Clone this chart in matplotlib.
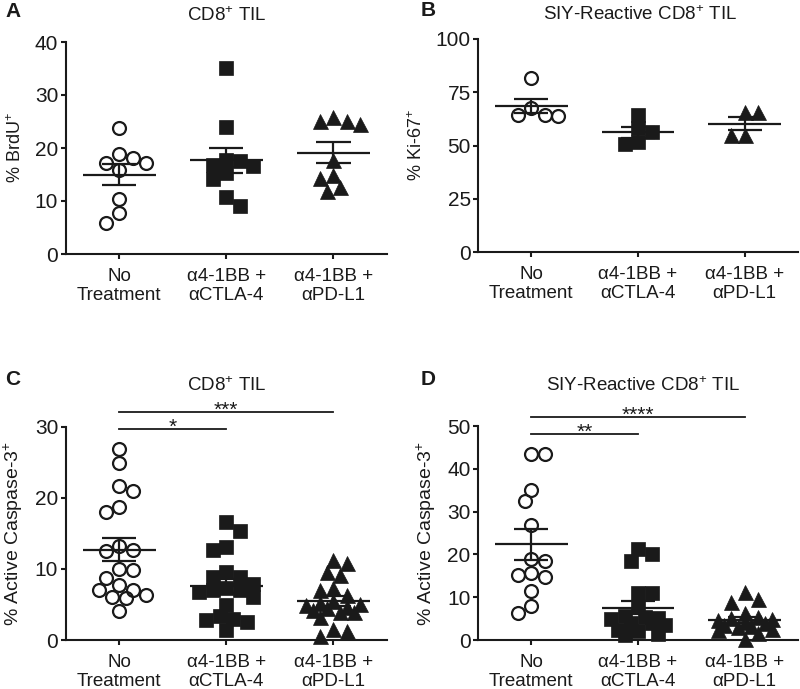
import numpy as np
import matplotlib
matplotlib.use("Agg")
import matplotlib.pyplot as plt

plt.rcParams['font.family'] = ['Liberation Sans', 'DejaVu Sans']
plt.rcParams['mathtext.fontset'] = 'custom'
plt.rcParams['mathtext.rm'] = 'Liberation Sans'
plt.rcParams['mathtext.it'] = 'Liberation Sans:italic'
plt.rcParams['mathtext.bf'] = 'Liberation Sans:bold'

# ---------------- data ----------------
categories = ['No\nTreatment', 'α4-1BB +\nαCTLA-4', 'α4-1BB +\nαPD-L1']

a_none = [18.8, 17.1, 23.8, 15.8, 17.1, 18.2, 10.3, 7.7, 5.9]
a_ctla = [35.0, 24.0, 17.6, 16.8, 17.8, 16.6, 15.2, 14.1, 10.8, 9.0]
a_pdl1 = [25.1, 24.5, 25.1, 25.9, 17.7, 14.3, 14.9, 11.9, 12.6]

b_none = [81.5, 64.5, 64.0, 64.5, 67.7]
b_ctla = [64.3, 56.4, 58.0, 50.6, 51.7]
b_pdl1 = [65.5, 65.5, 54.9, 54.9]

c_none = [26.8, 24.85, 21.6, 20.9, 18.75, 17.96, 13.2, 12.5, 12.66, 9.85, 9.94,
          8.7, 7.03, 7.74, 7.03, 6.33, 6.0, 5.86, 4.12]
c_ctla = [16.6, 15.4, 13.1, 12.6, 9.6, 8.9, 8.9, 7.9, 7.3, 7.0, 7.0, 6.8, 6.1,
          4.9, 3.4, 3.0, 2.8, 2.6, 1.4]
c_pdl1 = [11.3, 10.8, 9.6, 9.2, 7.3, 7.0, 6.3, 5.5, 5.2, 5.0, 4.9, 4.7, 4.5,
          4.2, 4.0, 4.0, 3.3, 1.6, 1.2, 0.5]

d_none = [43.4, 43.4, 35.0, 32.5, 26.9, 18.5, 18.9, 15.7, 14.8, 15.3, 11.4, 7.9, 6.4]
d_ctla = [21.2, 20.0, 18.5, 11.0, 10.9, 7.8, 5.6, 5.3, 5.1, 4.9, 4.0, 3.9, 3.5,
          2.4, 2.2, 1.5, 1.2]
d_pdl1 = [11.3, 9.5, 8.95, 6.2, 5.3, 5.1, 4.8, 4.7, 4.2, 3.9, 3.5, 3.2, 3.0,
          2.5, 2.3, 1.6, 0.3]

c_sig_labels = ['*', '***']
c_sig_pairs = [(0, 1), (0, 2)]
c_sig_y = [29.7, 32.1]
d_sig_labels = ['**', '****']
d_sig_pairs = [(0, 1), (0, 2)]
d_sig_y = [48.1, 52.2]

# ---------------- style ----------------
W, H = 800, 689
INK = '#1a1a1a'
fig = plt.figure(figsize=(W / 100, H / 100), dpi=100)


def rect(l, r, t, b):
    return [l / W, 1 - b / H, (r - l) / W, (b - t) / H]


def swarm_offsets(vals, px_per_x, px_per_y, diam_px, max_px=28.0):
    """Simple bounded beeswarm layout (pixel space), returns x offsets in data units."""
    vals = np.asarray(vals, float)
    order = np.argsort(-vals, kind='stable')
    placed = []
    offs = np.zeros(len(vals))
    step = diam_px * 0.5
    n_steps = int(max_px // step)
    side = 1.0
    thresh = diam_px * 0.92
    for i in order:
        y = vals[i] * px_per_y
        cands = [0.0]
        for k in range(1, n_steps + 1):
            cands += [side * k * step, -side * k * step]
        best, best_d = None, -1
        chosen = None
        for c in cands:
            dmin = min([np.hypot(c - px, y - py) for px, py in placed] or [1e9])
            if dmin >= thresh:
                chosen = c
                break
            if dmin > best_d:
                best, best_d = c, dmin
        if chosen is None:
            chosen = best
        if chosen != 0:
            side = -np.sign(chosen)
        placed.append((chosen, y))
        offs[i] = chosen / px_per_x
    return offs


markers = [dict(marker='o', ms=9.3, mfc='none', mec=INK, mew=1.6),
           dict(marker='s', ms=9.8, mfc=INK, mec=INK, mew=0.5),
           dict(marker='^', ms=10.8, mfc=INK, mec=INK, mew=0.5)]


def panel(r, groups, ymax, yticks, ylabel, ylabel_size, letter, letter_xy,
          title, title_xy, sig=None):
    ax = fig.add_axes(rect(*r))
    ax.set_xlim(-0.5, 2.5)
    ax.set_ylim(0, ymax)
    ax_w_px = r[1] - r[0]
    ax_h_px = r[3] - r[2]
    ppx = ax_w_px / 3.0
    ppy = ax_h_px / ymax
    for gi, vals in enumerate(groups):
        vals = np.asarray(vals, float)
        offs = swarm_offsets(vals, ppx, ppy, 13.5)
        ax.plot(gi + offs, vals, ls='none', clip_on=False, zorder=3, **markers[gi])
        m = vals.mean()
        s = vals.std(ddof=1) / np.sqrt(len(vals))
        kw = dict(color=INK, lw=1.6, zorder=4, solid_capstyle='butt')
        ax.plot([gi - 0.34, gi + 0.34], [m, m], **kw)
        ax.plot([gi - 0.16, gi + 0.16], [m + s, m + s], **kw)
        ax.plot([gi - 0.16, gi + 0.16], [m - s, m - s], **kw)
        ax.plot([gi, gi], [m - s, m + s], **kw)
    for sp in ['top', 'right']:
        ax.spines[sp].set_visible(False)
    for sp in ['left', 'bottom']:
        ax.spines[sp].set_linewidth(1.5)
        ax.spines[sp].set_color(INK)
    ax.set_xticks(range(3))
    ax.set_xticklabels(categories, fontsize=13.5, color=INK, linespacing=1.2)
    ax.set_yticks(yticks)
    ax.set_yticklabels([str(t) for t in yticks], fontsize=15, color=INK)
    ax.tick_params(axis='both', direction='out', length=3.8, width=1.5, color=INK)
    ax.tick_params(axis='y', pad=1.5)
    ax.tick_params(axis='x', pad=6)
    ax.set_ylabel(ylabel, fontsize=ylabel_size, color=INK, labelpad=7)
    fig.text(letter_xy[0] / W, 1 - letter_xy[1] / H, letter, fontsize=15,
             fontweight='bold', ha='left', va='baseline', color=INK)
    fig.text(title_xy[0] / W, 1 - title_xy[1] / H, title, fontsize=13.5,
             ha='center', va='baseline', color=INK)
    if sig is not None:
        labels, pairs, ys = sig
        for lab, (g0, g1), yy in zip(labels, pairs, ys):
            ax.plot([g0, g1], [yy, yy], color=INK, lw=1.3, clip_on=False)
            ax.annotate(lab, xy=((g0 + g1) / 2, yy), xytext=(0, -3.0),
                        textcoords='offset points', ha='center', va='baseline',
                        fontsize=15, color=INK, annotation_clip=False)
    return ax


panel((65.5, 387, 42, 254), [a_none, a_ctla, a_pdl1], 40, [0, 10, 20, 30, 40],
      '% BrdU$^{+}$', 13, 'A', (5, 17), 'CD8$^{+}$ TIL', (226.7, 21))
panel((478, 798, 39, 252), [b_none, b_ctla, b_pdl1], 100, [0, 25, 50, 75, 100],
      '% Ki-67$^{+}$', 13, 'B', (421, 16), 'SIY-Reactive CD8$^{+}$ TIL', (640, 20.5))
panel((65.5, 387, 426.7, 640), [c_none, c_ctla, c_pdl1], 30, [0, 10, 20, 30],
      '% Active Caspase-3$^{+}$', 14, 'C', (5, 385), 'CD8$^{+}$ TIL', (226.7, 391),
      sig=(c_sig_labels, c_sig_pairs, c_sig_y))
panel((478, 798, 426, 640), [d_none, d_ctla, d_pdl1], 50, [0, 10, 20, 30, 40, 50],
      '% Active Caspase-3$^{+}$', 14, 'D', (421, 385), 'SIY-Reactive CD8$^{+}$ TIL',
      (643, 391), sig=(d_sig_labels, d_sig_pairs, d_sig_y))

fig.savefig('out.png', dpi=100)
